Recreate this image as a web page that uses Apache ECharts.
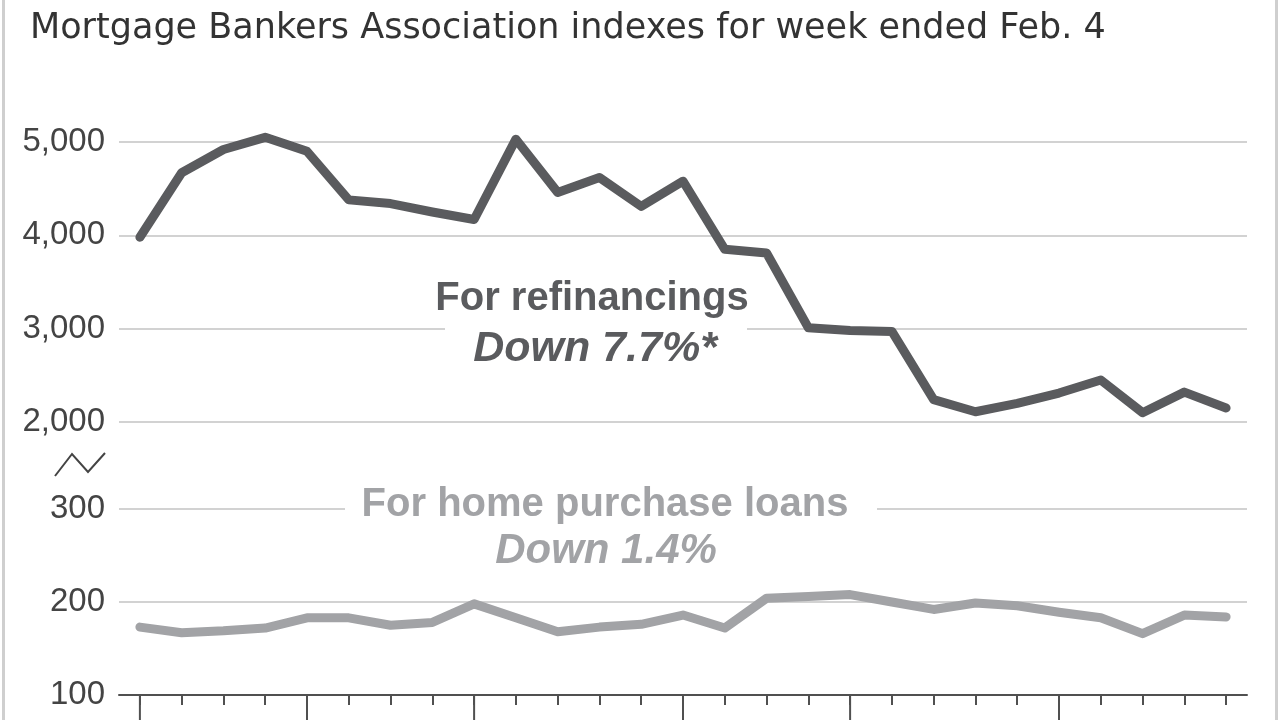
<!DOCTYPE html>
<html>
<head>
<meta charset="utf-8">
<script src="https://cdn.jsdelivr.net/npm/echarts@6/dist/echarts.min.js"></script>
<style>
html,body{margin:0;padding:0;background:#fff;}
#chart{width:1280px;height:720px;}
</style>
</head>
<body>
<div id="chart"></div>
<script>
// Week-ended dates (Aug 6, 2010 .. Feb 4, 2011)
const weeks = ['Aug 6','Aug 13','Aug 20','Aug 27','Sep 3','Sep 10','Sep 17','Sep 24','Oct 1','Oct 8','Oct 15','Oct 22','Oct 29',
  'Nov 5','Nov 12','Nov 19','Nov 26','Dec 3','Dec 10','Dec 17','Dec 24','Dec 31','Jan 7','Jan 14','Jan 21','Jan 28','Feb 4'];
// Weeks marked with a long (month) tick
const monthTicks = ['Aug 6','Sep 3','Oct 1','Nov 5','Dec 3','Jan 7'];
// MBA refinance index
const refinance = [3980,4670,4920,5050,4900,4380,4340,4250,4170,5030,4460,4620,4310,4580,3850,3810,3010,2980,2970,2240,2110,2200,2310,2450,2100,2320,2150];
// MBA purchase index
const purchase = [173,167,169,172,183,183,175,178,198,183,168,173,176,186,172,204,206,208,200,192,199,196,189,183,166,186,184];
// Axis ticks
const topTicks = [2000,3000,4000,5000];
const bottomTicks = [100,200,300];

const titleText = 'Mortgage Bankers Association indexes for week ended Feb. 4';
const refiLabel = 'For refinancings';
const refiChange = 'Down 7.7%*';
const purchLabel = 'For home purchase loans';
const purchChange = 'Down 1.4%';

// Long month ticks drawn as thin marks in a strip under the axis
const monthMarks = weeks.map(w => monthTicks.indexOf(w) >= 0 ? 1 : '-');

const DARK = '#5a5b5e';
const LIGHT = '#a2a3a6';
const GRID = '#d2d2d2';
const AXIS = '#505050';
const SANS = '"Liberation Sans", Arial, sans-serif';

const chart = echarts.init(document.getElementById('chart'));
const fmt = v => v.toLocaleString('en-US');

const yLabel = {fontFamily: SANS, fontSize: 33, color: '#444', margin: 14, formatter: fmt};

chart.setOption({
  animation: false,
  backgroundColor: '#fff',
  grid: [
    {left: 119, width: 1128, top: 142, height: 280, containLabel: false, outerBoundsMode: 'none'},
    {left: 119, width: 1128, top: 509, height: 186, containLabel: false, outerBoundsMode: 'none'},
    {left: 119, width: 1128, top: 695, height: 28, containLabel: false, outerBoundsMode: 'none'}
  ],
  xAxis: [
    {type: 'category', gridIndex: 0, data: weeks, boundaryGap: true, show: false},
    {type: 'category', gridIndex: 1, data: weeks, boundaryGap: true, position: 'bottom', z: 5,
      axisLine: {show: true, lineStyle: {color: AXIS, width: 2}},
      axisTick: {show: true, alignWithLabel: true, interval: 0, length: 10, lineStyle: {color: AXIS, width: 2}},
      axisLabel: {show: false}, splitLine: {show: false}},
    {type: 'category', gridIndex: 2, data: weeks, boundaryGap: true, show: false}
  ],
  yAxis: [
    {type: 'value', gridIndex: 0, min: topTicks[0], max: topTicks[topTicks.length-1], interval: 1000,
      axisLine: {show: false}, axisTick: {show: false}, axisLabel: yLabel,
      splitLine: {lineStyle: {color: GRID, width: 2}}},
    {type: 'value', gridIndex: 1, min: bottomTicks[0], max: bottomTicks[bottomTicks.length-1], interval: 100,
      axisLine: {show: false}, axisTick: {show: false}, axisLabel: yLabel,
      splitLine: {lineStyle: {color: GRID, width: 2}}},
    {type: 'value', gridIndex: 2, min: 0, max: 1, inverse: true, show: false}
  ],
  series: [
    {type: 'line', xAxisIndex: 0, yAxisIndex: 0, data: refinance, symbol: 'none', clip: false, z: 3,
      lineStyle: {color: DARK, width: 9, cap: 'round', join: 'round'}},
    {type: 'line', xAxisIndex: 1, yAxisIndex: 1, data: purchase, symbol: 'none', clip: false, z: 3,
      lineStyle: {color: LIGHT, width: 9, cap: 'round', join: 'round'}},
    {type: 'bar', xAxisIndex: 2, yAxisIndex: 2, data: monthMarks, barWidth: 2, silent: true, z: 5,
      itemStyle: {color: AXIS}}
  ],
  graphic: [
    {type: 'rect', left: 2, top: 0, shape: {width: 3, height: 720}, style: {fill: '#cfcfcf'}, z: 1},
    {type: 'rect', left: 1275, top: 0, shape: {width: 3, height: 720}, style: {fill: '#cfcfcf'}, z: 1},
    {type: 'text', x: 30, y: 29, z: 10, style: {text: titleText, fontFamily: '"DejaVu Sans", sans-serif', fontSize: 35,
      fill: '#333', verticalAlign: 'middle', align: 'left'}},
    {type: 'polyline', z: 10, shape: {points: [[55,476],[72,454],[88,472],[105,453]]}, style: {stroke: '#444', lineWidth: 2, fill: null}},
    {type: 'rect', z: 9, shape: {x: 445, y: 320, width: 302, height: 18}, style: {fill: '#fff'}},
    {type: 'rect', z: 9, shape: {x: 345, y: 500, width: 532, height: 18}, style: {fill: '#fff'}},
    {type: 'text', x: 592, y: 299, z: 10, style: {text: refiLabel, fontFamily: SANS, fontWeight: 'bold',
      fontSize: 40, fill: DARK, align: 'center', verticalAlign: 'middle'}},
    {type: 'text', x: 595, y: 349, z: 10, style: {text: refiChange, fontFamily: SANS, fontWeight: 'bold', fontStyle: 'italic',
      fontSize: 43, fill: DARK, align: 'center', verticalAlign: 'middle'}},
    {type: 'text', x: 605, y: 505, z: 10, style: {text: purchLabel, fontFamily: SANS, fontWeight: 'bold',
      fontSize: 40, fill: LIGHT, align: 'center', verticalAlign: 'middle'}},
    {type: 'text', x: 606, y: 551, z: 10, style: {text: purchChange, fontFamily: SANS, fontWeight: 'bold', fontStyle: 'italic',
      fontSize: 42, fill: LIGHT, align: 'center', verticalAlign: 'middle'}}
  ]
});
</script>
</body>
</html>
